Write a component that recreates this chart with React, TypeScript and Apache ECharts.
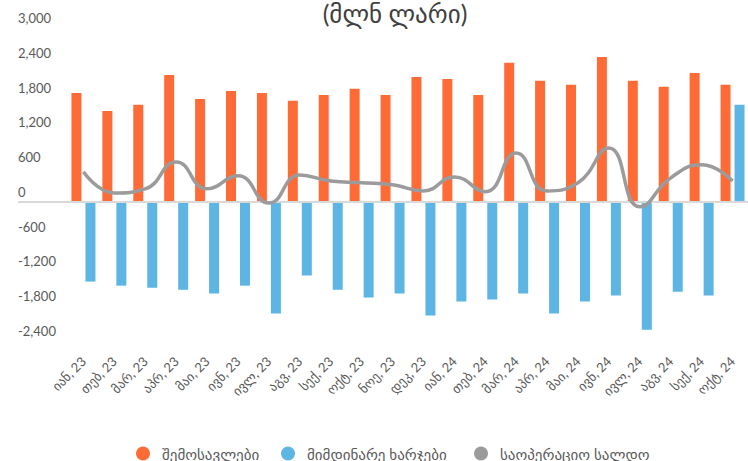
import React, { useEffect, useRef } from "react";
import * as echarts from "echarts";

const categories = [
  "იან, 23", "თებ, 23", "მარ, 23", "აპრ, 23", "მაი, 23", "ივნ, 23",
  "ივლ, 23", "აგვ, 23", "სექ, 23", "ოქტ, 23", "ნოე, 23", "დეკ, 23",
  "იან, 24", "თებ, 24", "მარ, 24", "აპრ, 24", "მაი, 24", "ივნ, 24",
  "ივლ, 24", "აგვ, 24", "სექ, 24", "ოქტ, 24",
];
const revenue = [1880, 1570, 1675, 2190, 1775, 1915, 1880, 1745, 1845, 1950, 1845, 2155, 2120, 1845, 2400, 2090, 2020, 2500, 2090, 1985, 2225, 2020];
const expenses = [-1375, -1445, -1480, -1515, -1580, -1445, -1925, -1270, -1515, -1650, -1580, -1960, -1720, -1685, -1580, -1925, -1720, -1615, -2205, -1550, -1615, 1675];
const saldo = [520, 155, 225, 690, 225, 450, -20, 465, 360, 330, 295, 190, 430, 175, 845, 190, 330, 930, -85, 415, 640, 360];
const seriesNames = ["შემოსავლები", "მიმდინარე ხარჯები", "საოპერაციო სალდო"];
const seriesColors = ["#FF6B37", "#5DB5E4", "#9B9B9B"];
const legendLefts = [131, 276, 469];
const titleText = "(მლნ ლარი)";
const yMin = -2400;
const yMax = 3000;
const yStep = 600;

const FONT = "Lato, 'DejaVu Sans', sans-serif";

export default function App() {
  const ref = useRef<HTMLDivElement>(null);
  useEffect(() => {
    if (!ref.current) return;
    const chart = echarts.init(ref.current, undefined, { renderer: "svg" });
    chart.setOption({
      animation: false,
      textStyle: { fontFamily: FONT },
      grid: { left: 68, right: -2, top: 28, bottom: 120, containLabel: false },
      legend: seriesNames.map((n, i) => ({
        left: legendLefts[i],
        top: 441,
        icon: "circle",
        itemWidth: 14,
        itemHeight: 14,
        textStyle: { fontSize: 15, color: "#595959", fontFamily: FONT, padding: [0, 0, 0, 7] },
        data: [n],
      })),
      xAxis: {
        type: "category",
        data: categories,
        axisLine: { show: false, onZero: false },
        axisTick: { show: false },
        axisLabel: { rotate: 45, margin: 18, fontSize: 13, color: "#595959", interval: 0, fontFamily: FONT },
      },
      yAxis: {
        type: "value",
        min: yMin,
        max: yMax,
        interval: yStep,
        splitLine: { show: false },
        axisLine: { show: false },
        axisTick: { show: false },
        axisLabel: {
          align: "left",
          verticalAlign: "bottom",
          lineHeight: 20,
          margin: 50,
          fontSize: 13,
          color: "#595959",
          fontFamily: FONT,
          formatter: (v: number) => v.toLocaleString("en-US"),
        },
      },
      series: [
        { name: seriesNames[0], type: "bar", data: revenue, barWidth: 10, barGap: "40%", itemStyle: { color: seriesColors[0] }, z: 2 },
        { name: seriesNames[1], type: "bar", data: expenses, barWidth: 10, barGap: "40%", itemStyle: { color: seriesColors[1] }, z: 2 },
        {
          name: seriesNames[2], type: "line", data: saldo, smooth: true, showSymbol: false, symbol: "circle",
          lineStyle: { color: seriesColors[2], width: 3.5 }, itemStyle: { color: seriesColors[2] }, z: 5,
        },
      ],
    });
    const y0 = chart.convertToPixel({ yAxisIndex: 0 }, 0) as number;
    chart.setOption({
      graphic: [
        { type: "line", z: 3, shape: { x1: 18, y1: y0, x2: 748, y2: y0 }, style: { stroke: "#D9D9D9", lineWidth: 2 } },
        {
          type: "text", z: 10, x: 395, y: 0,
          style: { text: titleText, align: "center", verticalAlign: "top", fontSize: 25, fill: "#404040", fontFamily: FONT },
        },
      ],
    });
    return () => chart.dispose();
  }, []);
  return <div ref={ref} style={{ width: 748, height: 461, position: "absolute", left: 0, top: 0 }} />;
}
